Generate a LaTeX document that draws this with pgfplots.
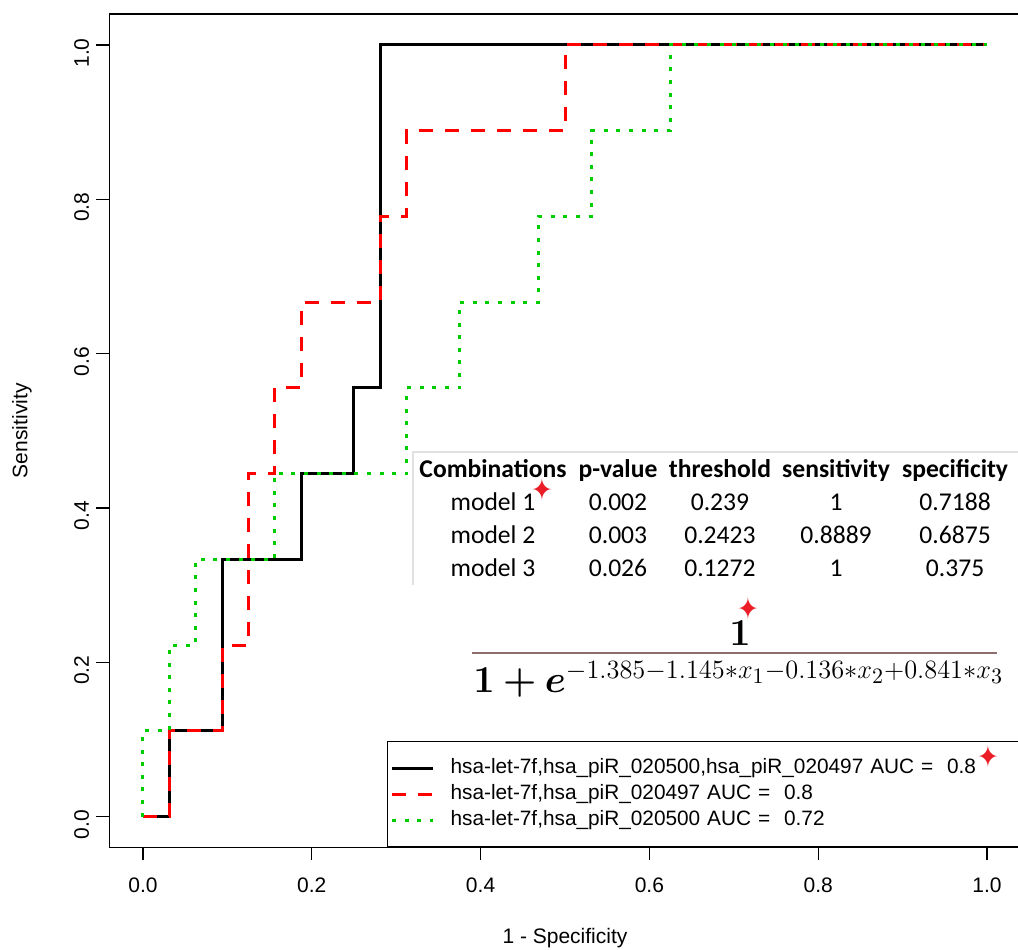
\documentclass[border=0pt]{standalone}
\usepackage{amsmath}
\usepackage[no-math]{fontspec}
\usepackage{pgfplots}
\pgfplotsset{compat=1.18}
\setmainfont{Liberation Sans}
\newfontfamily\carlito{Carlito}
\newfontfamily\symfont{DejaVu Sans}

\definecolor{rocgreen}{RGB}{0,205,0}
\definecolor{barbrown}{RGB}{140,112,112}
\definecolor{boxgray}{RGB}{225,225,225}
\definecolor{starred}{RGB}{235,30,40}

\begin{document}
\begin{tikzpicture}
\begin{axis}[
  scale only axis, width=455.8pt, height=416.65pt,
  xmin=-0.04, xmax=1.04, ymin=-0.04, ymax=1.04,
  axis line style={line width=0.6pt, black},
  tick align=outside, major tick length=6.5pt,
  tick style={line width=0.6pt, black},
  xtick pos=bottom, ytick pos=left,
  xtick={0,0.2,0.4,0.6,0.8,1}, xticklabels={0.0,0.2,0.4,0.6,0.8,1.0},
  ytick={0,0.2,0.4,0.6,0.8,1}, yticklabels={0.0,0.2,0.4,0.6,0.8,1.0},
  ticklabel style={font=\fontsize{10.5}{12}\selectfont},
  xticklabel style={yshift=-5pt},
  yticklabel style={rotate=90, anchor=south, xshift=-4pt},
  xlabel={1 - Specificity}, ylabel={Sensitivity},
  label style={font=\fontsize{10.5}{12}\selectfont},
  xlabel style={at={(axis description cs:0.5,-0.1087)}, anchor=center},
  ylabel style={at={(axis description cs:-0.0957,0.5)}, anchor=center},
  legend style={at={(axis cs:0.2891,-0.04)}, anchor=south west,
    draw=black, line width=0.6pt, fill=white,
    inner xsep=1.5pt, inner ysep=6.75pt, row sep=0pt, column sep=8pt,
    font=\fontsize{10.4}{12}\selectfont,
    nodes={inner sep=0pt, text height=9pt, text depth=4pt, text width=290pt, align=left}},
  legend cell align=left,
  legend image code/.code={\draw[#1] (0pt,0pt) -- (20.5pt,0pt);},
]

% ROC curves: 1 - specificity (32 controls) against sensitivity (9 cases)
\addplot[black, line width=1.5pt] coordinates {
  (0,0) (0.03125,0) (0.03125,0.1111) (0.09375,0.1111) (0.09375,0.3333)
  (0.1875,0.3333) (0.1875,0.4444) (0.25,0.4444) (0.25,0.5556)
  (0.28125,0.5556) (0.28125,1) (1,1)};
\addlegendentry{hsa-let-7f,hsa\_piR\_020500,hsa\_piR\_020497 AUC = \ 0.8}

\addplot[red, line width=1.5pt, dash pattern=on 7pt off 6pt] coordinates {
  (0,0) (0.03125,0) (0.03125,0.1111) (0.09375,0.1111) (0.09375,0.2222)
  (0.125,0.2222) (0.125,0.4444) (0.15625,0.4444) (0.15625,0.5556)
  (0.1875,0.5556) (0.1875,0.6667) (0.28125,0.6667) (0.28125,0.7778)
  (0.3125,0.7778) (0.3125,0.8889) (0.5,0.8889) (0.5,1) (1,1)};
\addlegendentry{hsa-let-7f,hsa\_piR\_020497 AUC = \ 0.8}

\addplot[rocgreen, line width=1.5pt, dash pattern=on 2pt off 4.3pt] coordinates {
  (0,0) (0,0.1111) (0.03125,0.1111) (0.03125,0.2222) (0.0625,0.2222)
  (0.0625,0.3333) (0.15625,0.3333) (0.15625,0.4444) (0.3125,0.4444)
  (0.3125,0.5556) (0.375,0.5556) (0.375,0.6667) (0.46875,0.6667)
  (0.46875,0.7778) (0.53125,0.7778) (0.53125,0.8889) (0.625,0.8889)
  (0.625,1) (1,1)};
\addlegendentry{hsa-let-7f,hsa\_piR\_020500 AUC = \ 0.72}

% summary table of the three models
\draw[boxgray, line width=0.6pt] (axis cs:0.320,0.300) -- (axis cs:0.320,0.4725) -- (axis cs:1.04,0.4725);
\begin{scope}[every node/.style={anchor=base, inner sep=0pt, font=\carlito\fontsize{12.8}{16.5}\selectfont}]
\node at (axis cs:0.4147,0.4388) {\begin{tabular}[t]{@{}c@{}}\textbf{Combinations}\\ model 1\\ model 2\\ model 3\end{tabular}};
\node at (axis cs:0.5628,0.4388) {\begin{tabular}[t]{@{}c@{}}\textbf{p-value}\\ 0.002\\ 0.003\\ 0.026\end{tabular}};
\node at (axis cs:0.6836,0.4388) {\begin{tabular}[t]{@{}c@{}}\textbf{threshold}\\ 0.239\\ 0.2423\\ 0.1272\end{tabular}};
\node at (axis cs:0.8211,0.4388) {\begin{tabular}[t]{@{}c@{}}\textbf{sensitivity}\\ 1\\ 0.8889\\ 1\end{tabular}};
\node at (axis cs:0.9621,0.4388) {\begin{tabular}[t]{@{}c@{}}\textbf{specificity}\\ 0.7188\\ 0.6875\\ 0.375\end{tabular}};
\end{scope}

% logistic model formula
\node[anchor=base, inner sep=0pt, font=\LARGE] at (axis cs:0.7074,0.2223) {\scalebox{1.1}{$\mathbf{1}$}};
\draw[barbrown, line width=1pt] (axis cs:0.3898,0.2119) -- (axis cs:1.0118,0.2119);
\node[anchor=base west, inner sep=0pt, font=\LARGE] at (axis cs:0.391,0.1614)
  {\scalebox{1.1}{$\mathbf{1}\boldsymbol{+}\boldsymbol{e}^{-1.385-1.145*x_1-0.136*x_2+0.841*x_3}$}};

\coordinate (s1) at (axis cs:0.4727,0.4232);
\coordinate (s2) at (axis cs:0.7168,0.2690);
\coordinate (s3) at (axis cs:1.0012,0.0774);
\end{axis}

% sparkle marks drawn above the legend
\foreach \s in {s1,s2,s3}
  \node[text=starred, inner sep=0pt, yscale=1.15, font=\symfont\fontsize{13}{13}\selectfont] at (\s) {✦};

\pgfresetboundingbox
\useasboundingbox ([shift={(-54.6pt,-50.8pt)}]current axis.south west)
  rectangle ([shift={(-1.4pt,7.05pt)}]current axis.north east);
\end{tikzpicture}
\end{document}
